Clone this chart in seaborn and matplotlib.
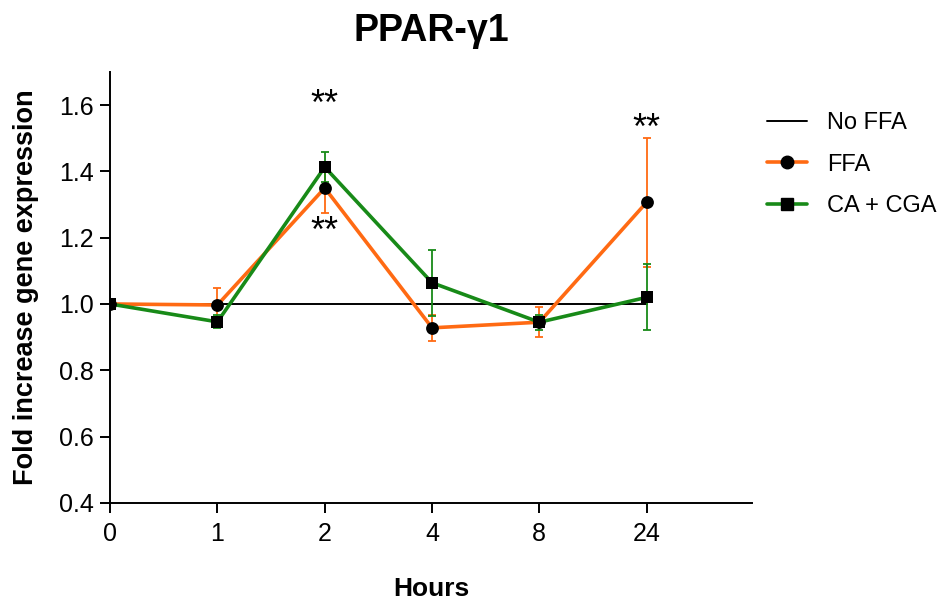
import matplotlib
matplotlib.use("Agg")
import matplotlib.pyplot as plt
from matplotlib.lines import Line2D
import numpy as np
import pandas as pd
import seaborn as sns

# Time points (hours) shown as evenly spaced categories
hours = ["0", "1", "2", "4", "8", "24"]

# Mean fold change and SEM for each treatment
ffa_mean = [1.00, 0.997, 1.35, 0.928, 0.945, 1.307]
ffa_err = [0.0, 0.05, 0.075, 0.04, 0.045, 0.195]
cacga_mean = [1.00, 0.946, 1.413, 1.064, 0.945, 1.02]
cacga_err = [0.0, 0.02, 0.045, 0.10, 0.023, 0.10]
control_mean = [1.0, 1.0, 1.0, 1.0, 1.0, 1.0]

# Significance marks: (category index, y position, text)
sig_marks = [(2, 1.60, "**"), (2, 1.215, "**"), (5, 1.528, "**")]

orange = "#FF6A13"
green = "#188A18"

sns.set_style("ticks")
plt.rcParams["font.family"] = ["Liberation Sans", "DejaVu Sans"]
plt.rcParams["text.color"] = "black"
plt.rcParams["axes.labelcolor"] = "black"

pos = np.arange(len(hours))
df = pd.DataFrame({
    "pos": np.concatenate([pos, pos, pos]),
    "value": control_mean + ffa_mean + cacga_mean,
    "group": ["No FFA"] * 6 + ["FFA"] * 6 + ["CA + CGA"] * 6,
})

fig = plt.figure(figsize=(9.41, 6.0), dpi=100)
ax = fig.add_axes([0.117, 0.162, 0.682, 0.718])

sns.lineplot(data=df[df.group == "No FFA"], x="pos", y="value", color="black",
             linewidth=1.4, ax=ax, legend=False, zorder=2)
sns.lineplot(data=df[df.group == "FFA"], x="pos", y="value", color=orange,
             linewidth=2.6, ax=ax, legend=False, zorder=3)
sns.lineplot(data=df[df.group == "CA + CGA"], x="pos", y="value", color=green,
             linewidth=2.6, ax=ax, legend=False, zorder=4)

ax.errorbar(pos, ffa_mean, yerr=ffa_err, fmt="none", ecolor=orange,
            elinewidth=1.3, capsize=3.2, capthick=1.3, zorder=3.5)
ax.errorbar(pos, cacga_mean, yerr=cacga_err, fmt="none", ecolor=green,
            elinewidth=1.3, capsize=3.2, capthick=1.3, zorder=4.5)

ax.scatter(pos, ffa_mean, marker="o", s=85, color="black", zorder=6, linewidths=0)
ax.scatter(pos, cacga_mean, marker="s", s=85, color="black", zorder=7, linewidths=0)

for i, y, t in sig_marks:
    ax.text(i, y, t, ha="center", va="center", fontsize=26, color="black")

ax.set_xlim(0, 5.98)
ax.set_ylim(0.4, 1.7)
ax.set_xticks(pos)
ax.set_xticklabels(hours)
ax.set_yticks([0.4, 0.6, 0.8, 1.0, 1.2, 1.4, 1.6])
ax.set_yticklabels(["0.4", "0.6", "0.8", "1.0", "1.2", "1.4", "1.6"])
ax.tick_params(axis="both", labelsize=18, length=7, width=1.4, direction="out",
               color="black", labelcolor="black", pad=5)
ax.tick_params(axis="x", pad=7)
for s in ["left", "bottom"]:
    ax.spines[s].set_linewidth(1.4)
    ax.spines[s].set_color("black")
sns.despine(ax=ax)

ax.set_xlabel("Hours", fontsize=19, fontweight="bold", labelpad=22)
ax.set_ylabel("Fold increase gene expression", fontsize=19.5, fontweight="bold", labelpad=14)
ax.set_title("PPAR-γ1", fontsize=27, fontweight="bold", pad=22)

handles = [
    Line2D([], [], color="black", linewidth=1.4),
    Line2D([], [], color=orange, linewidth=2.6, marker="o", markersize=9,
           markerfacecolor="black", markeredgecolor="black"),
    Line2D([], [], color=green, linewidth=2.6, marker="s", markersize=9,
           markerfacecolor="black", markeredgecolor="black"),
]
ax.legend(handles, ["No FFA", "FFA", "CA + CGA"], loc="upper left",
          bbox_to_anchor=(1.0, 0.943), frameon=False, fontsize=17,
          handlelength=1.7, labelspacing=0.83, handletextpad=0.85,
          borderaxespad=0.25)

fig.savefig("out.png", dpi=100)
